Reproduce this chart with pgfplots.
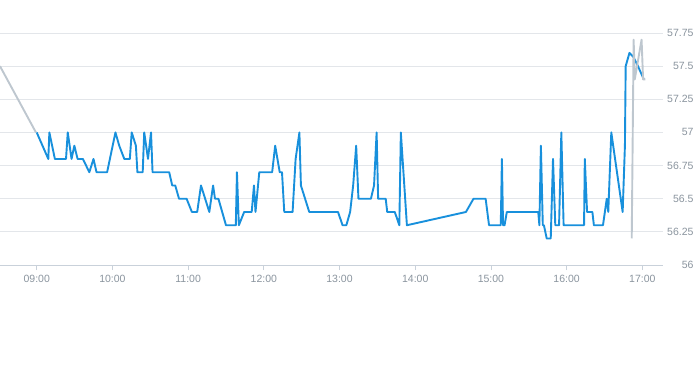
\documentclass[border=0pt]{standalone}
\usepackage{fontspec}
\setmainfont{Liberation Sans}
\usepackage{pgfplots}
\pgfplotsset{compat=1.18}
\definecolor{blueline}{HTML}{1890DC}
\definecolor{grayline}{HTML}{BEC7CF}
\definecolor{gridc}{HTML}{E3E6EA}
\definecolor{axisc}{HTML}{C9D1DA}
\definecolor{labc}{HTML}{8A949E}
\begin{document}
\begin{tikzpicture}
\begin{axis}[
  at={(0pt,0pt)}, anchor=origin,
  scale only axis,
  width=663pt, height=265pt,
  xmin=8.515, xmax=17.273,
  ymin=56, ymax=57.999,
  axis line style={draw=none},
  axis x line*=bottom,
  axis y line*=right,
  ytick={56,56.25,56.5,56.75,57,57.25,57.5,57.75},
  yticklabels={56,56.25,56.5,56.75,57,57.25,57.5,57.75},
  xtick={9,10,11,12,13,14,15,16,17},
  xticklabels={09:00,10:00,11:00,12:00,13:00,14:00,15:00,16:00,17:00},
  ymajorgrids,
  grid style={gridc, line width=0.8pt},
  major y tick style={draw=none},
  major x tick style={axisc, line width=0.8pt},
  tick align=outside,
  major tick length=5pt,
  ticklabel style={font=\fontsize{10.5}{12}\selectfont, text=labc},
  yticklabel style={anchor=east, xshift=29pt},
  xticklabel style={yshift=-1.5pt},
  /pgf/number format/assume math mode=true,
  clip=true,
]
\draw[axisc, line width=0.8pt] (rel axis cs:0,0) -- (rel axis cs:1,0);
\addplot[grayline, line width=1.9pt] coordinates {
(8.515,57.5) (8.99,57.0)
};
\addplot[blueline, line width=1.9pt, line join=round] coordinates {
(9.0,57.0) (9.153,56.8) (9.167,57.0) (9.24,56.8) (9.387,56.8) (9.41,57.0)
(9.46,56.8) (9.497,56.9) (9.54,56.8) (9.61,56.8) (9.695,56.7) (9.75,56.8)
(9.79,56.7) (9.93,56.7) (10.04,57.0) (10.09,56.9) (10.157,56.8) (10.23,56.8)
(10.255,57.0) (10.31,56.9) (10.33,56.7) (10.40,56.7) (10.42,57.0) (10.47,56.8)
(10.51,57.0) (10.53,56.7) (10.75,56.7) (10.79,56.6) (10.83,56.6) (10.88,56.5)
(10.98,56.5) (11.05,56.4) (11.12,56.4) (11.17,56.6) (11.28,56.4) (11.33,56.6)
(11.355,56.5) (11.40,56.5) (11.50,56.3) (11.63,56.3) (11.645,56.7) (11.67,56.3)
(11.74,56.4) (11.84,56.4) (11.87,56.6) (11.89,56.4) (11.94,56.7) (12.11,56.7)
(12.15,56.9) (12.21,56.7) (12.24,56.7) (12.27,56.4) (12.38,56.4) (12.42,56.8)
(12.47,57.0) (12.49,56.6) (12.60,56.4) (12.98,56.4) (13.04,56.3) (13.09,56.3)
(13.14,56.4) (13.18,56.6) (13.22,56.9) (13.25,56.5) (13.415,56.5) (13.456,56.6)
(13.49,57.0) (13.51,56.5) (13.61,56.5) (13.63,56.4) (13.73,56.4) (13.79,56.3)
(13.81,57.0) (13.89,56.3) (14.67,56.4) (14.77,56.5) (14.93,56.5) (14.975,56.3)
(15.13,56.3) (15.145,56.8) (15.16,56.3) (15.18,56.3) (15.21,56.4) (15.625,56.4)
(15.64,56.3) (15.66,56.9) (15.685,56.3) (15.70,56.3) (15.737,56.2) (15.79,56.2)
(15.82,56.8) (15.85,56.3) (15.90,56.3) (15.93,57.0) (15.96,56.3) (16.23,56.3)
(16.24,56.8) (16.27,56.4) (16.34,56.4) (16.36,56.3) (16.48,56.3) (16.53,56.5)
(16.55,56.4) (16.59,57.0) (16.74,56.4) (16.77,56.9) (16.78,57.5) (16.83,57.6)
(16.88,57.57) (16.95,57.49) (17.02,57.4)
};
\addplot[grayline, line width=1.9pt, line join=round] coordinates {
(16.86,56.2) (16.885,57.7) (16.9,57.4) (16.99,57.7) (17.01,57.4) (17.04,57.4)
};
\end{axis}
\pgfresetboundingbox
\path[use as bounding box] (0pt,-100pt) rectangle (693pt,265pt);
\end{tikzpicture}
\end{document}
